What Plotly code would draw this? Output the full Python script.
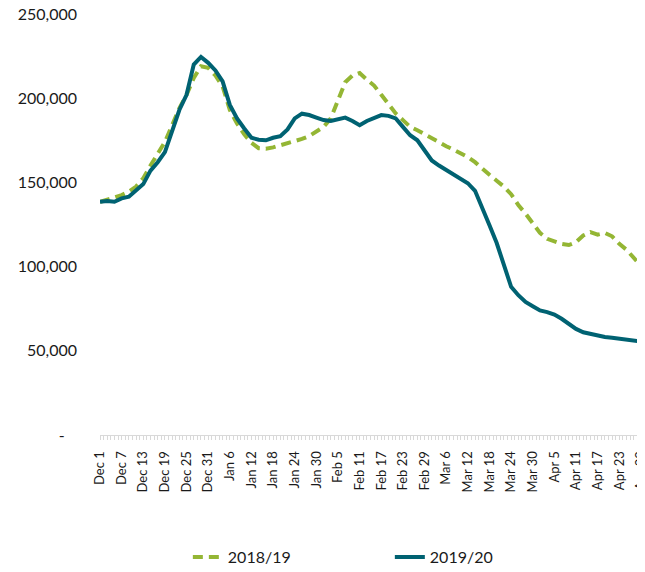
import pandas as pd
import plotly.graph_objects as go

# Sample dates: every second day from Dec 1 to May 1
dates = pd.date_range("2019-12-01", "2020-05-01", freq="2D")

series_2018_19 = [
    138.5, 139.5, 141, 142.5, 144.5, 147.5, 152.5, 160, 167, 174,
    184, 194, 202, 212, 219, 218, 213.5, 207, 193, 185,
    178.5, 173.5, 170.3, 170, 170.8, 172, 173.5, 175, 175.8, 177.5,
    180, 183, 188, 199, 209.5, 213.5, 215, 211, 207.5, 202,
    196, 191, 187, 183, 181, 178.5, 176, 173.5, 171.5, 169.5,
    167.5, 165, 162, 158, 154.5, 151, 147.5, 143, 136.5, 131.5,
    125.5, 120, 116.5, 115, 113.5, 112.8, 114.5, 118.5, 120.5, 119,
    120, 118, 113.5, 110, 105.5, 100.5, 97.5,
]
series_2019_20 = [
    138.5, 139, 138.5, 140.5, 141.5, 145.5, 149, 157, 162, 168,
    181, 193, 202, 220, 224.5, 221, 216.5, 210, 196, 188,
    182, 176.5, 175.3, 175, 176.5, 177.5, 181.5, 188, 190.8, 190,
    188.5, 187, 186.5, 187.5, 188.5, 186.5, 184, 186.5, 188.5, 190,
    189.5, 188, 183, 178, 175, 169, 163, 160, 157.5, 155,
    152, 149.5, 145, 134, 124.5, 114, 100, 88, 83, 79,
    76.5, 74, 73, 71.5, 69, 66, 63, 61, 60, 59,
    58.2, 57.8, 57.3, 57, 56.3, 55.7, 55,
]
series_2018_19 = [v * 1000 for v in series_2018_19]
series_2019_20 = [v * 1000 for v in series_2019_20]

tick_dates = pd.date_range("2019-12-01", "2020-04-29", freq="6D")
tick_labels = [
    "Dec 1", "Dec 7", "Dec 13", "Dec 19", "Dec 25", "Dec 31", "Jan 6", "Jan 12",
    "Jan 18", "Jan 24", "Jan 30", "Feb 5", "Feb 11", "Feb 17", "Feb 23", "Feb 29",
    "Mar 6", "Mar 12", "Mar 18", "Mar 24", "Mar 30", "Apr 5", "Apr 11", "Apr 17",
    "Apr 23", "Apr 29",
]
y_vals = [0, 50000, 100000, 150000, 200000, 250000]
y_labels = ["-\u00a0\u00a0\u00a0", "50,000", "100,000", "150,000", "200,000", "250,000"]

GREEN = "#94B634"
TEAL = "#006272"
FONT = "Lato"

fig = go.Figure()
fig.add_trace(go.Scatter(
    x=dates, y=series_2018_19, name="2018/19", mode="lines",
    line=dict(color=GREEN, width=4, dash="10px,6px"),
))
fig.add_trace(go.Scatter(
    x=dates, y=series_2019_20, name="2019/20", mode="lines",
    line=dict(color=TEAL, width=4),
))

fig.update_layout(
    width=645, height=572,
    margin=dict(l=92, r=8, t=6, b=145, autoexpand=False),
    paper_bgcolor="white", plot_bgcolor="white",
    font=dict(family=FONT, size=16, color="#1a1a1a"),
    showlegend=True,
    legend=dict(
        orientation="h", xref="container", yref="container",
        x=0.592, y=0.040, xanchor="center", yanchor="middle",
        font=dict(size=16, color="#1a1a1a"), entrywidth=157,
    ),
    annotations=[dict(
        text="<b>population</b>", xref="paper", yref="paper",
        x=0.2917, y=1.0095, xanchor="left", yanchor="bottom",
        showarrow=False, font=dict(size=19, color="black", family=FONT),
    )],
)
fig.update_xaxes(
    range=["2019-12-01", "2020-04-30 03:00"],
    tickvals=tick_dates, ticktext=tick_labels, tickangle=-90,
    tickfont=dict(size=13, color="#1a1a1a"),
    showline=True, linecolor="#d9d9d9", linewidth=1,
    ticks="outside", ticklen=4, tickcolor="#d9d9d9",
    minor=dict(dtick=86400000, ticks="outside", ticklen=4, tickcolor="#d9d9d9"),
    showgrid=False, zeroline=False, ticklabelstandoff=6, automargin=False,
    ticklabeloverflow="allow",
)
fig.update_yaxes(
    range=[0, 250000], tickvals=y_vals, ticktext=y_labels,
    showgrid=False, zeroline=False, showline=False, ticks="",
    tickfont=dict(size=16, color="#1a1a1a"), ticklabelstandoff=22, automargin=False,
    ticklabeloverflow="allow",
)

fig.write_html("out.html")
